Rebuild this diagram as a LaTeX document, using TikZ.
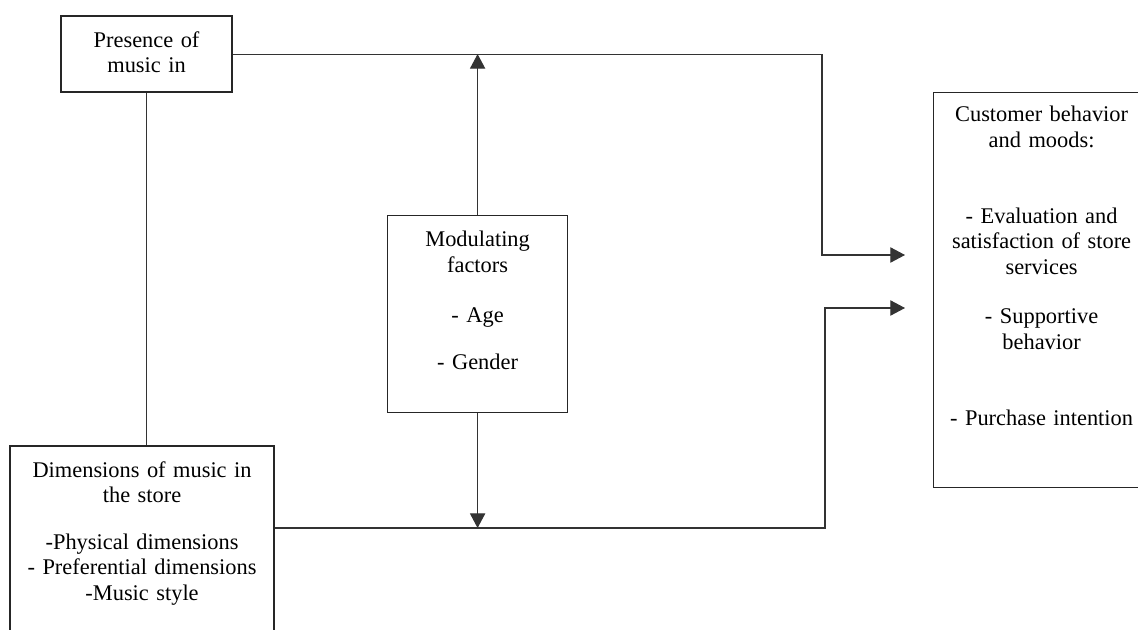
\documentclass[tikz,border=0pt]{standalone}
\usepackage{fontspec}
\setmainfont{Liberation Serif}
\usetikzlibrary{arrows.meta}
\tikzset{
  box/.style={draw=black!85, anchor=north west, inner sep=0pt, align=center,
    font=\fontsize{16.8}{19.1}\selectfont},
  heavybox/.style={box, line width=1.6pt},
  lightbox/.style={box, line width=0.9pt},
  conn/.style={line width=0.8pt, draw=black!80},
  tipconn/.style={conn, -{Triangle[length=11pt, width=11.5pt]}}
}

\begin{document}
\begin{tikzpicture}[x=0.75pt, y=-0.75pt]
    \clip (0,0) rectangle (1138,629);
    \node[heavybox, text width=128.25pt, text height=23.25pt, text depth=33.75pt]
        (presence) at (60,15) {Presence of\\music in};
    \node[heavybox, text width=198pt, text height=23.25pt, text depth=117pt]
        (dims) at (9,445) {Dimensions of music in\\the store\\[16pt]
        -Physical dimensions\\- Preferential dimensions\\-Music style};
    \node[lightbox, text width=135pt, text height=23.25pt, text depth=124.5pt]
        (modul) at (387,215) {Modulating\\factors\\[19pt]- Age\\[16pt]- Gender};
    \node[lightbox, text width=162pt, text height=21.75pt, text depth=274.5pt]
        (customer) at (933,92) {Customer behavior\\and moods:\\[38pt]
        - Evaluation and\\satisfaction of store\\services\\[18pt]
        - Supportive\\behavior\\[38.5pt]- Purchase intention};

    \coordinate (turnA) at (822,255);
    \coordinate (inA) at (905,255);
    \coordinate (turnB) at (825,308);
    \coordinate (inB) at (905,308);
    \coordinate (low) at (477,528);

    \draw[conn] (presence.south) -- (presence.south |- dims.north);
    \draw[tipconn] (presence.east) -| (turnA) -- (inA);
    \draw[tipconn] (dims.east |- low) -| (turnB) -- (inB);
    \draw[tipconn] (modul.north) -- (modul.north |- presence.east);
    \draw[tipconn] (modul.south) -- (modul.south |- low);
\end{tikzpicture}
\end{document}
